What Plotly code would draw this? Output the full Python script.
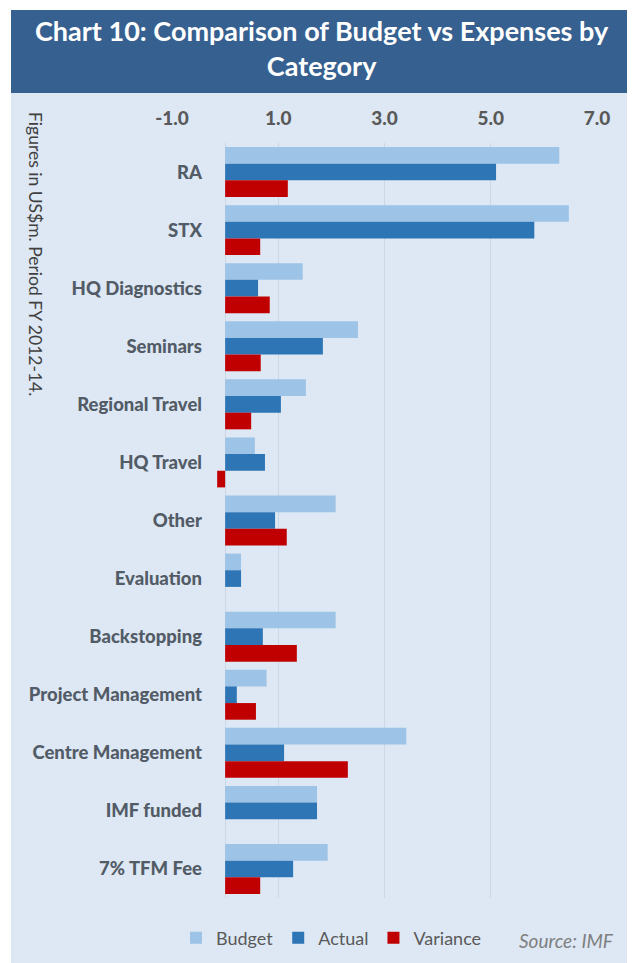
import plotly.graph_objects as go

categories = ["RA", "STX", "HQ Diagnostics", "Seminars", "Regional Travel", "HQ Travel",
              "Other", "Evaluation", "Backstopping", "Project Management",
              "Centre Management", "IMF funded", "7% TFM Fee"]
budget = [6.29, 6.47, 1.46, 2.50, 1.52, 0.56, 2.08, 0.30, 2.08, 0.78, 3.41, 1.73, 1.93]
actual = [5.10, 5.82, 0.62, 1.84, 1.05, 0.75, 0.94, 0.30, 0.71, 0.22, 1.11, 1.73, 1.28]
variance = [1.18, 0.66, 0.84, 0.67, 0.49, -0.15, 1.16, 0.0, 1.35, 0.58, 2.31, 0.0, 0.66]
x_ticks = [-1.0, 1.0, 3.0, 5.0, 7.0]
x_tick_labels = ["-1.0", "1.0", "3.0", "5.0", "7.0"]

# page body has an 8px margin; work in screen coords and convert
OX, OY = 8, 8
SW, SH = 635, 963
W, H = SW - OX, SH - OY
# plot area in screen coords
PL, PR, PT, PB = 172, 597, 143, 898
L, R, T, B = PL - OX, W - (PR - OX), PT - OY, H - (PB - OY)
pw, ph = PR - PL, PB - PT


def px(x):
    return (x - PL) / pw


def py(y):
    return (PB - y) / ph


def cx(x):
    return (x - OX) / W


def cy(y):
    return 1 - (y - OY) / H


FONT = "Lato"
BG = "#DDE8F4"
TITLE_BG = "#36608F"

fig = go.Figure()
for name, vals, col in [("Budget", budget, "#9DC3E6"), ("Actual", actual, "#2E75B6"),
                        ("Variance", variance, "#C00000")]:
    fig.add_trace(go.Bar(y=categories, x=vals, name=name, orientation="h",
                         marker=dict(color=col, line=dict(width=0))))

fig.update_layout(
    width=W, height=H,
    margin=dict(l=L, r=R, t=T, b=B, autoexpand=False),
    paper_bgcolor="white", plot_bgcolor=BG,
    barmode="group", bargap=0.14, bargroupgap=0,
    font=dict(family=FONT, color="#595959"),
    xaxis=dict(side="top", range=[-1, 7], tickvals=x_ticks, ticktext=x_tick_labels,
               showgrid=True, gridcolor="#CBD7E4", gridwidth=1,
               zeroline=True, zerolinecolor="#CBD7E4", zerolinewidth=1,
               tickfont=dict(size=19, color="#595959", family=FONT + " Black"),
               ticklabelstandoff=13, showline=False, fixedrange=True),
    yaxis=dict(autorange="reversed", anchor="free", position=px(224),
               tickfont=dict(size=18.5, color="#525B66", family=FONT + " Black"),
               ticks="", ticklabelstandoff=22, showgrid=False, showline=False),
    legend=dict(orientation="h", xref="container", yref="container",
                x=cx(176), y=cy(938), xanchor="left", yanchor="middle",
                font=dict(size=18, color="#595959"), bgcolor="rgba(0,0,0,0)",
                itemwidth=30, tracegroupgap=0),
    shapes=[
        dict(type="rect", xref="paper", yref="paper", x0=px(11), x1=px(SW + 2), y0=py(SH + 2), y1=py(93),
             fillcolor=BG, line=dict(width=0), layer="below"),
        dict(type="rect", xref="paper", yref="paper", x0=px(11), x1=px(SW + 2), y0=py(93), y1=py(10),
             fillcolor=TITLE_BG, line=dict(width=0), layer="below"),
    ],
    annotations=[
        dict(xref="paper", yref="paper", x=px(322), y=py(48), xanchor="center", yanchor="middle",
             text="<b>Chart 10: Comparison of Budget vs Expenses by<br>Category</b>",
             showarrow=False, font=dict(size=27, color="white", family=FONT)),
        dict(xref="paper", yref="paper", x=px(36), y=py(254), xanchor="center", yanchor="middle",
             text="Figures in US$m. Period FY 2012-14.", textangle=90,
             showarrow=False, font=dict(size=17.5, color="#404040", family=FONT)),
        dict(xref="paper", yref="paper", x=px(616), y=py(940), xanchor="right", yanchor="middle",
             text="<i>Source: IMF</i>", showarrow=False,
             font=dict(size=19, color="#7F7F7F", family=FONT)),
    ],
)

fig.write_html("out.html")
